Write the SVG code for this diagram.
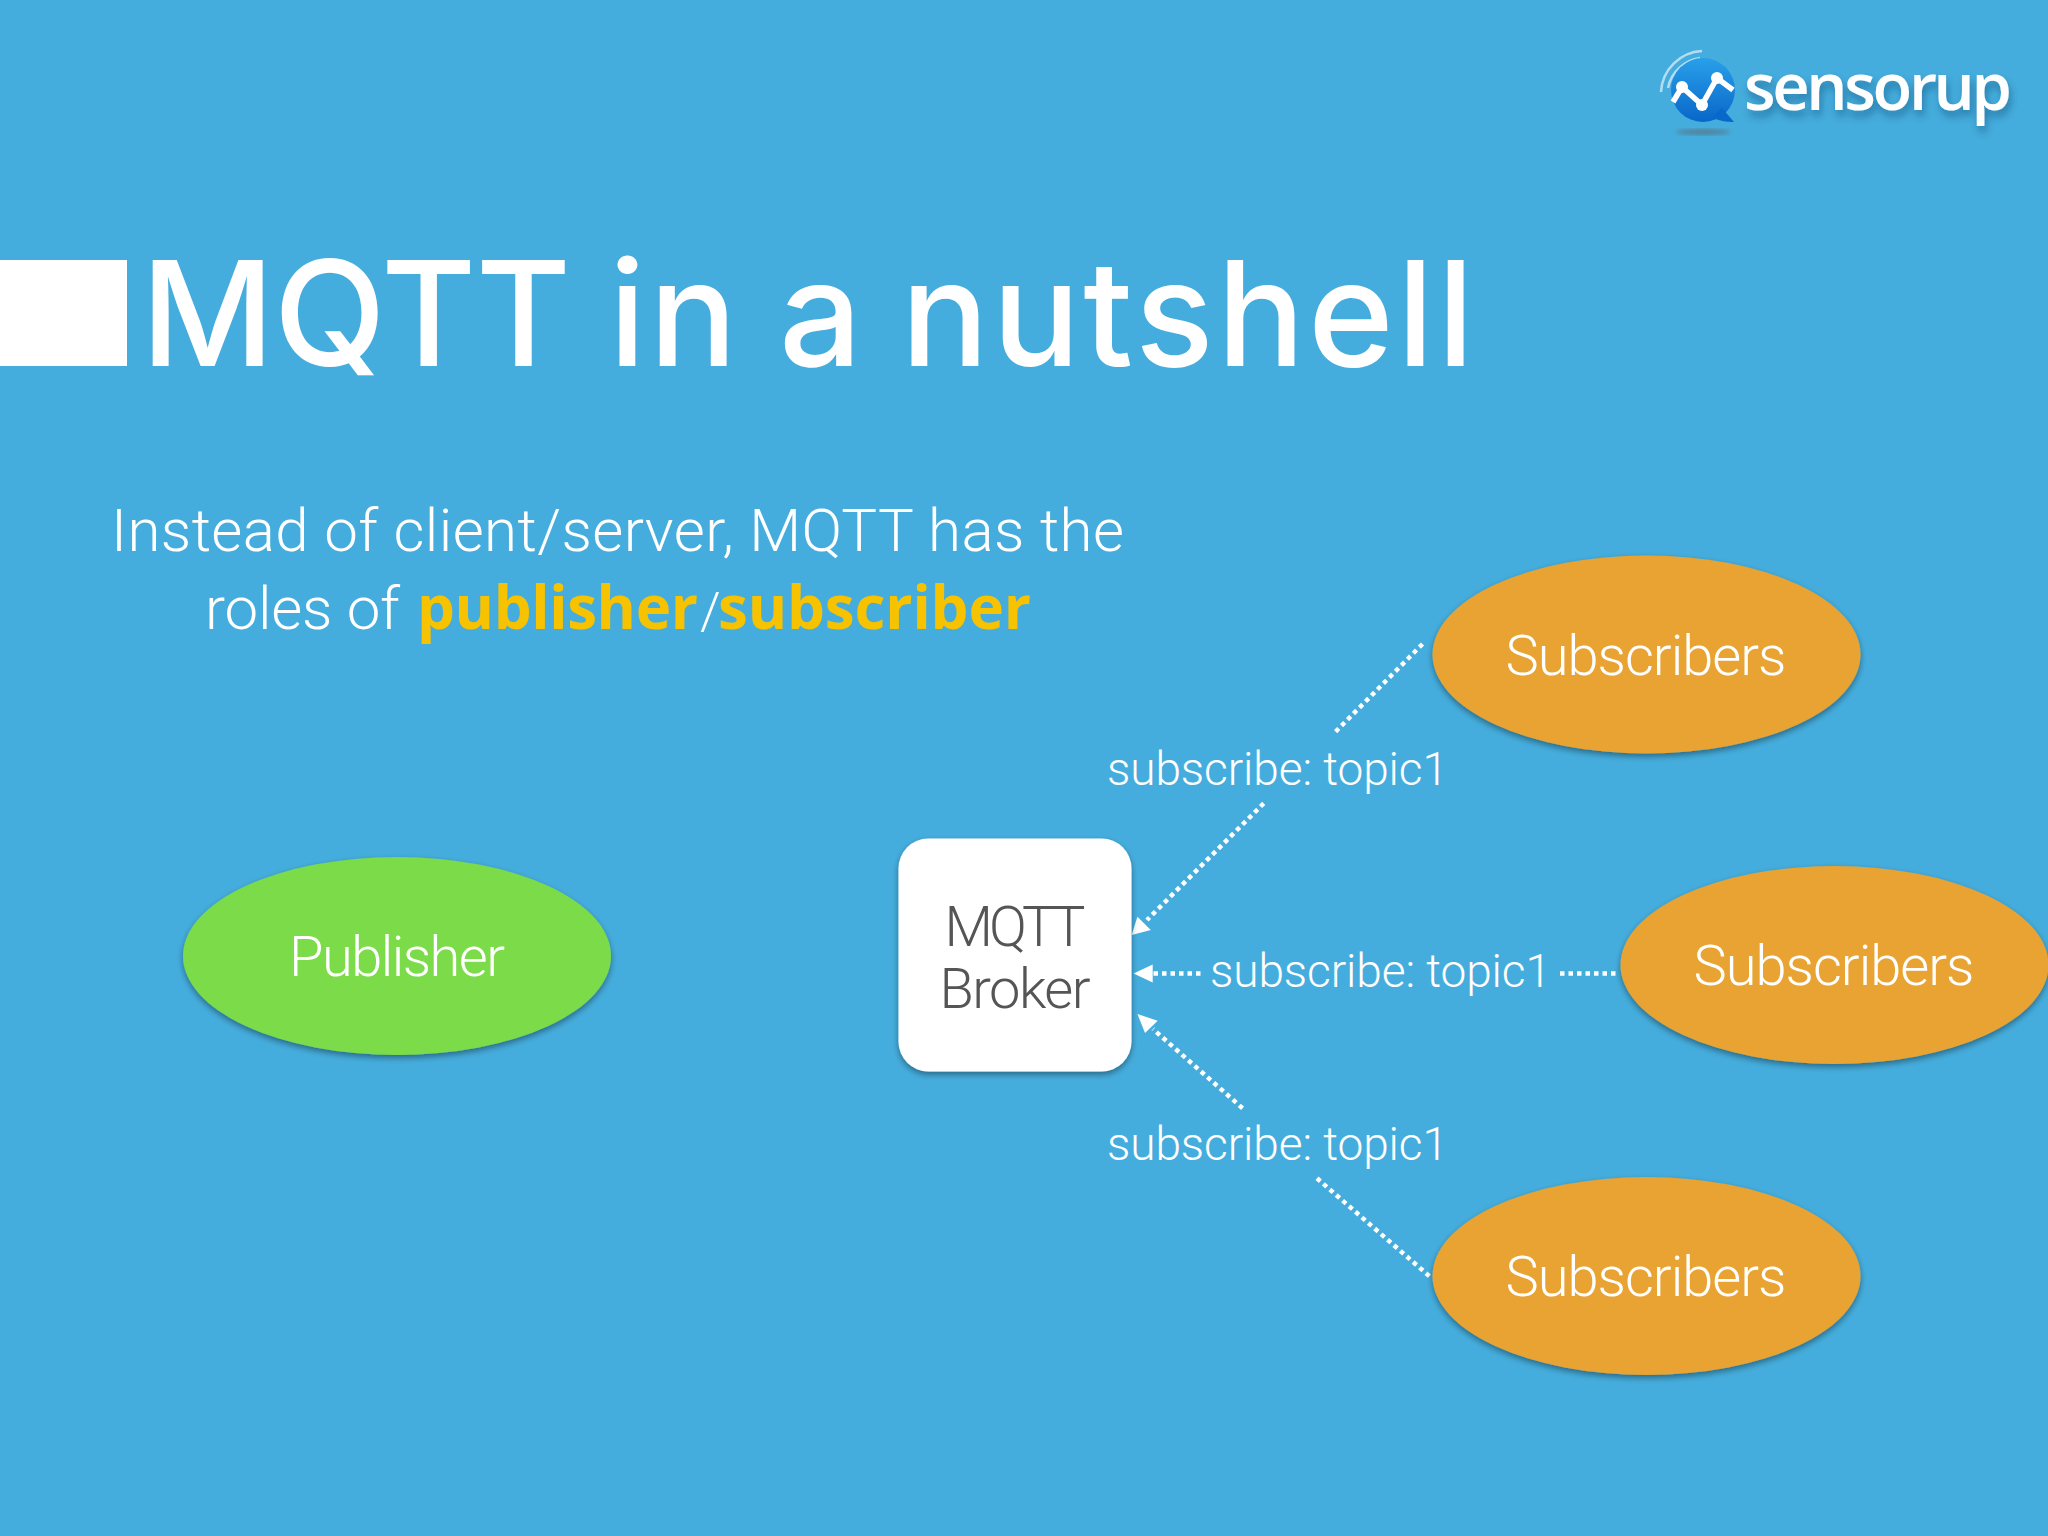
<svg xmlns="http://www.w3.org/2000/svg" width="2048" height="1536" viewBox="0 0 2048 1536">
<defs>
<style>
.l{font-family:Roboto,"Liberation Sans",sans-serif;font-weight:300;fill:#fff}
.b{font-family:"Open Sans",sans-serif;font-weight:700;fill:#f7c200}
.node{font-family:Roboto,"Liberation Sans",sans-serif;font-weight:300;font-size:56px;fill:#fff;text-anchor:middle}
.sub{fill:#e8a333;filter:url(#sh)}
.lab{font-size:46px}
.dot{fill:none;stroke:#fff;stroke-width:4.5;stroke-dasharray:4.5 4}
.hd{fill:#fff}
</style>
<filter id="sh" x="-10%" y="-10%" width="120%" height="125%"><feDropShadow dx="0" dy="3" stdDeviation="3" flood-color="#000" flood-opacity=".4"/></filter>
<filter id="lg" x="-10%" y="-20%" width="120%" height="150%"><feDropShadow dx="2" dy="6" stdDeviation="4" flood-color="#0a3a66" flood-opacity=".45"/></filter>
<filter id="bl"><feGaussianBlur stdDeviation="2"/></filter>
<linearGradient id="bb" x1="0" y1="0" x2="0" y2="1"><stop offset="0" stop-color="#28a0ea"/><stop offset="1" stop-color="#0a66c8"/></linearGradient>
</defs>
<rect width="2048" height="1536" fill="#45addd"/>
<rect x="0" y="260" width="127" height="106" fill="#fff"/>
<text y="366" font-family="Inter,'Noto Sans',sans-serif" font-size="146" font-weight="500" fill="#fff"><tspan x="141" textLength="430">MQTT</tspan> <tspan x="609" textLength="128">in</tspan> <tspan x="779" textLength="88">a</tspan> <tspan x="901" textLength="573">nutshell</tspan></text>
<text class="l" x="111" y="551" font-size="60" textLength="1013" lengthAdjust="spacing">Instead of client/server, MQTT has the</text>
<text class="l" font-size="60" y="629"><tspan x="205" textLength="195">roles of</tspan><tspan class="b" x="417" textLength="281">publisher</tspan><tspan x="700" font-size="52">/</tspan><tspan class="b" x="718" textLength="313">subscriber</tspan></text>
<g id="logo">
<ellipse cx="1703" cy="132" rx="27" ry="3" fill="#55707f" opacity=".7" filter="url(#bl)"/>
<path d="M1702 51C1680 52 1662 70 1661 92M1700 58C1685 60 1671 72 1668 88" fill="none" stroke="#cfe8f6" stroke-width="2.5" opacity=".8"/>
<circle cx="1703" cy="90" r="32" fill="url(#bb)"/>
<path d="M1722 108L1734 122C1727 122 1718 121 1712 117Z" fill="#0a68ca"/>
<polyline points="1673,102 1682,87 1702,105 1717,78 1733,90" fill="none" stroke="#fff" stroke-width="5.5"/>
<circle cx="1682" cy="87" r="6" fill="#fff"/><circle cx="1702" cy="105" r="6" fill="#fff"/><circle cx="1717" cy="78" r="6" fill="#fff"/>
<text x="1744" y="110" font-family="'Open Sans',sans-serif" font-weight="600" font-size="65" fill="#fff" filter="url(#lg)" textLength="268" lengthAdjust="spacing">sensorup</text>
</g>
<g id="connectors">
<path class="dot" d="M1422.5 644L1335.6 731.7"/>
<path class="dot" d="M1263.7 803.3L1147 920"/>
<path class="hd" d="M1131.7 935L1150.8 930L1137.4 916.7Z"/>
<path class="dot" d="M1200.5 973.5H1152"/>
<path class="hd" d="M1133.6 973.5L1152.7 964.5V982.5Z"/>
<path class="dot" d="M1560 973.5H1618"/>
<path class="dot" d="M1242.6 1108.3L1153 1029"/>
<path class="hd" d="M1137.4 1014L1157.7 1020.7L1145 1033Z"/>
<path class="dot" d="M1317 1178.3L1430 1276.7"/>
</g>
<g id="publisher"><ellipse cx="397" cy="956" rx="214" ry="99" fill="#7cdb48" filter="url(#sh)"/><text class="node" x="397" y="976" textLength="216">Publisher</text></g>
<g id="broker"><rect x="898.5" y="838.5" width="233" height="233" rx="30" fill="#fff" filter="url(#sh)"/>
<text class="node" x="1015" y="946" style="fill:#555" textLength="141">MQTT</text><text class="node" x="1015" y="1008" style="fill:#555" textLength="151">Broker</text></g>
<g id="sub1"><ellipse class="sub" cx="1646.5" cy="654.5" rx="214" ry="99"/><text class="node" x="1646" y="675" textLength="281">Subscribers</text></g>
<g id="sub2"><ellipse class="sub" cx="1834.5" cy="965" rx="214" ry="99"/><text class="node" x="1834" y="985" textLength="281">Subscribers</text></g>
<g id="sub3"><ellipse class="sub" cx="1646.5" cy="1276" rx="214" ry="99"/><text class="node" x="1646" y="1296" textLength="281">Subscribers</text></g>
<g id="labels">
<text class="l lab" x="1107" y="785" textLength="341">subscribe: topic1</text>
<text class="l lab" x="1210" y="987" textLength="341">subscribe: topic1</text>
<text class="l lab" x="1107" y="1160" textLength="341">subscribe: topic1</text>
</g>
</svg>
